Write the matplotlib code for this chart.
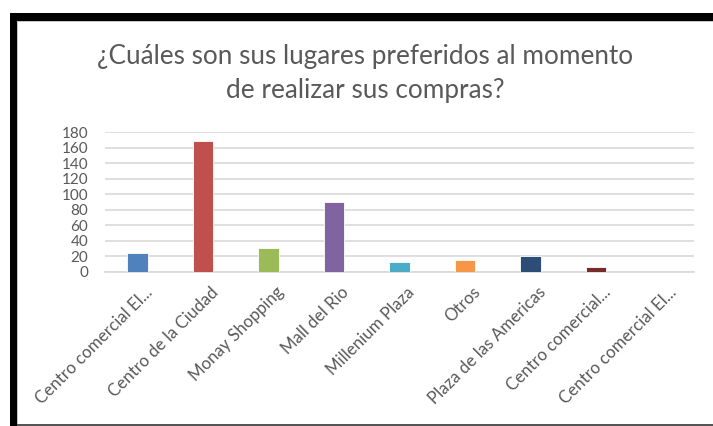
import matplotlib
matplotlib.use("Agg")
import matplotlib.pyplot as plt
from matplotlib.patches import Rectangle
from matplotlib.transforms import ScaledTranslation

categories = ["Centro comercial El...", "Centro de la Ciudad", "Monay Shopping",
              "Mall del Rio", "Millenium Plaza", "Otros", "Plaza de las Americas",
              "Centro comercial...", "Centro comercial El..."]
values = [24, 168, 31, 90, 13, 15, 20, 6, 0]
colors = ["#4F81BD", "#C0504D", "#9BBB59", "#8064A2", "#4BACC6", "#F79646",
          "#2C4D75", "#772C2A", "#5F7530"]
yticks = [0, 20, 40, 60, 80, 100, 120, 140, 160, 180]
title_lines = ["¿Cuáles son sus lugares preferidos al momento", "de realizar sus compras?"]

W, H = 713, 426
plt.rcParams['font.family'] = ['Lato', 'DejaVu Sans']
fig = plt.figure(figsize=(W / 100, H / 100), dpi=100)
fig.patch.set_facecolor("white")

def px(x, y):
    return x / W, 1 - y / H

# frame
fig.patches.append(Rectangle(px(10, 21), (W - 10) / W, 8 / H, transform=fig.transFigure,
                             facecolor="black", edgecolor="none", zorder=5))
fig.patches.append(Rectangle(px(10, H), 7 / W, (H - 13) / H, transform=fig.transFigure,
                             facecolor="black", edgecolor="none", zorder=5))
fig.patches.append(Rectangle(px(17, 22), (W - 17) / W, 1 / H, transform=fig.transFigure,
                             facecolor="#C8C8C8", edgecolor="none", zorder=5))
fig.patches.append(Rectangle(px(17, H), 1 / W, (H - 22) / H, transform=fig.transFigure,
                             facecolor="#C8C8C8", edgecolor="none", zorder=5))
fig.patches.append(Rectangle(px(17, H), (W - 17) / W, 2 / H, transform=fig.transFigure,
                             facecolor="#555555", edgecolor="none", zorder=5))

left, right, top, bottom = 105, 694, 132, 271.7
ax = fig.add_axes([left / W, 1 - bottom / H, (right - left) / W, (bottom - top) / H])
x = list(range(len(categories)))
ax.bar(x, values, width=0.315, color=colors, edgecolor="white", linewidth=0.6, zorder=3)
ax.set_xlim(-0.5, len(categories) - 0.5)
ax.set_ylim(0, 180)
ax.set_yticks(yticks)
ax.set_yticklabels([str(v) for v in yticks], fontsize=11, color="#595959")
ax.set_xticks(x)
ax.set_xticklabels(categories, rotation=45, ha="right", va="top", rotation_mode="anchor",
                   fontsize=12.2, color="#595959")
ax.tick_params(axis="y", length=0, pad=12)
ax.tick_params(axis="x", length=0, pad=6)
offset = ScaledTranslation(7 / 100, -4 / 100, fig.dpi_scale_trans)
for lab in ax.get_xticklabels():
    lab.set_transform(lab.get_transform() + offset)
ax.grid(axis="y", color="#D9D9D9", linewidth=1.2, zorder=0)
for s in ["top", "right", "left"]:
    ax.spines[s].set_visible(False)
ax.spines["bottom"].set_color("#D9D9D9")
ax.spines["bottom"].set_linewidth(1.2)

fig.text(365 / W, 1 - 64 / H, title_lines[0], ha="center", va="baseline",
         fontsize=18.8, color="#595959")
fig.text(365 / W, 1 - 98 / H, title_lines[1], ha="center", va="baseline",
         fontsize=18.8, color="#595959")

fig.savefig("out.png", dpi=100, facecolor="white")
